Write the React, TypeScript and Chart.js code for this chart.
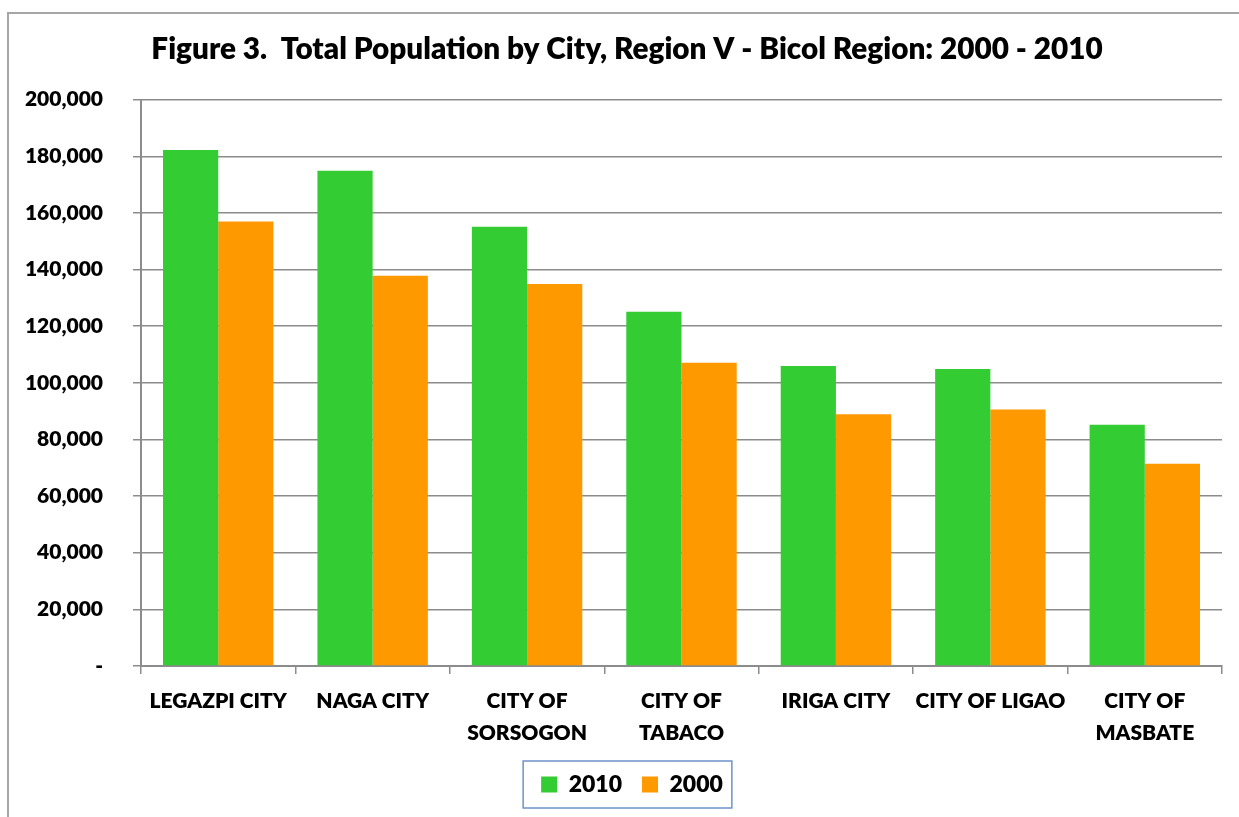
import React, { useEffect, useRef } from "react";
import { Chart, registerables } from "chart.js";

Chart.register(...registerables);

const cities: (string | string[])[] = [
  "LEGAZPI CITY",
  "NAGA CITY",
  ["CITY OF", "SORSOGON"],
  ["CITY OF", "TABACO"],
  "IRIGA CITY",
  "CITY OF LIGAO",
  ["CITY OF", "MASBATE"],
];
const pop2010 = [182200, 174900, 155100, 125100, 105900, 104900, 85200];
const pop2000 = [157000, 137800, 134900, 107100, 88900, 90600, 71400];
const seriesNames = ["2010", "2000"];
const titleText = "Figure 3.  Total Population by City, Region V - Bicol Region: 2000 - 2010";
const yMax = 200000;
const yStep = 20000;

const FONT = "Lato, 'Liberation Sans', sans-serif";
const W = "800";

// Shift title and legend horizontally so they're centred like the reference
const centreShift = {
  id: "centreShift",
  afterLayout(chart: any) {
    if (chart.titleBlock) {
      chart.titleBlock.left += 12;
      chart.titleBlock.right += 12;
    }
    if (chart.legend) {
      chart.legend.left += 17;
      chart.legend.right += 17;
    }
  },
};

const legendBorder = {
  id: "legendBorder",
  afterDraw(chart: any) {
    const lg = chart.legend;
    if (!lg || !lg.legendHitBoxes || !lg.legendHitBoxes.length) return;
    const hb = lg.legendHitBoxes;
    const minX = Math.min(...hb.map((h: any) => h.left));
    const maxX = Math.max(...hb.map((h: any) => h.left + h.width));
    const top = Math.min(...hb.map((h: any) => h.top));
    const bottom = Math.max(...hb.map((h: any) => h.top + h.height));
    const ctx = chart.ctx;
    ctx.save();
    ctx.strokeStyle = "#6f93c8";
    ctx.lineWidth = 1.5;
    ctx.strokeRect(minX - 18, top - 12, maxX - minX + 27, bottom - top + 24);
    ctx.restore();
  },
};

export default function App() {
  const ref = useRef<HTMLCanvasElement>(null);
  useEffect(() => {
    if (!ref.current) return;
    const chart = new Chart(ref.current, {
      type: "bar",
      data: {
        labels: cities,
        datasets: [
          {
            label: seriesNames[0],
            data: pop2010,
            backgroundColor: "#33cc33",
            borderWidth: 0,
          },
          {
            label: seriesNames[1],
            data: pop2000,
            backgroundColor: "#ff9900",
            borderWidth: 0,
          },
        ],
      },
      options: {
        responsive: false,
        animation: false,
        layout: { padding: { left: 8, right: 17, top: 0, bottom: 11 } },
        datasets: {
          bar: { categoryPercentage: 0.715, barPercentage: 1 },
        },
        plugins: {
          title: {
            display: true,
            text: titleText,
            color: "#000",
            font: { family: FONT, size: 29.7, weight: W, lineHeight: 1.2 },
            padding: { top: 32, bottom: 32 },
          },
          legend: {
            position: "bottom",
            labels: {
              color: "#000",
              boxWidth: 16,
              boxHeight: 16,
              padding: 20,
              font: { family: FONT, size: 23, weight: W },
            },
          },
          tooltip: { enabled: false },
        },
        scales: {
          x: {
            afterFit(scale: any) {
              scale.height -= 7;
            },
            grid: {
              display: true,
              drawOnChartArea: false,
              drawTicks: true,
              tickLength: 8,
              color: "#8c8c8c",
              lineWidth: 1.5,
            },
            border: { color: "#8c8c8c", width: 2 },
            ticks: {
              color: "#000",
              padding: 11,
              maxRotation: 0,
              autoSkip: false,
              font: { family: FONT, size: 21, weight: W, lineHeight: 32 / 21 },
            },
          },
          y: {
            min: 0,
            max: yMax,
            afterFit(scale: any) {
              scale.width = 133;
            },
            grid: {
              color: "#8c8c8c",
              lineWidth: 1.5,
              tickLength: 8,
            },
            border: { color: "#8c8c8c", width: 2 },
            ticks: {
              stepSize: yStep,
              color: "#000",
              padding: 30,
              font: { family: FONT, size: 21, weight: W },
              callback: (v: any) => (Number(v) === 0 ? "-" : Number(v).toLocaleString("en-US")),
            },
          },
        },
      },
      plugins: [centreShift, legendBorder],
    });
    return () => chart.destroy();
  }, []);

  return (
    <div
      style={{
        position: "fixed",
        left: 0,
        top: 0,
        width: 1239,
        height: 817,
        overflow: "hidden",
        background: "#fff",
      }}
    >
      <div
        style={{
          position: "absolute",
          left: 7,
          top: 12,
          width: 1400,
          height: 1000,
          border: "2px solid #a6a6a6",
          boxSizing: "border-box",
        }}
      />
      <canvas
        ref={ref}
        width={1239}
        height={817}
        style={{ position: "absolute", left: 0, top: 0, display: "block" }}
      />
    </div>
  );
}
